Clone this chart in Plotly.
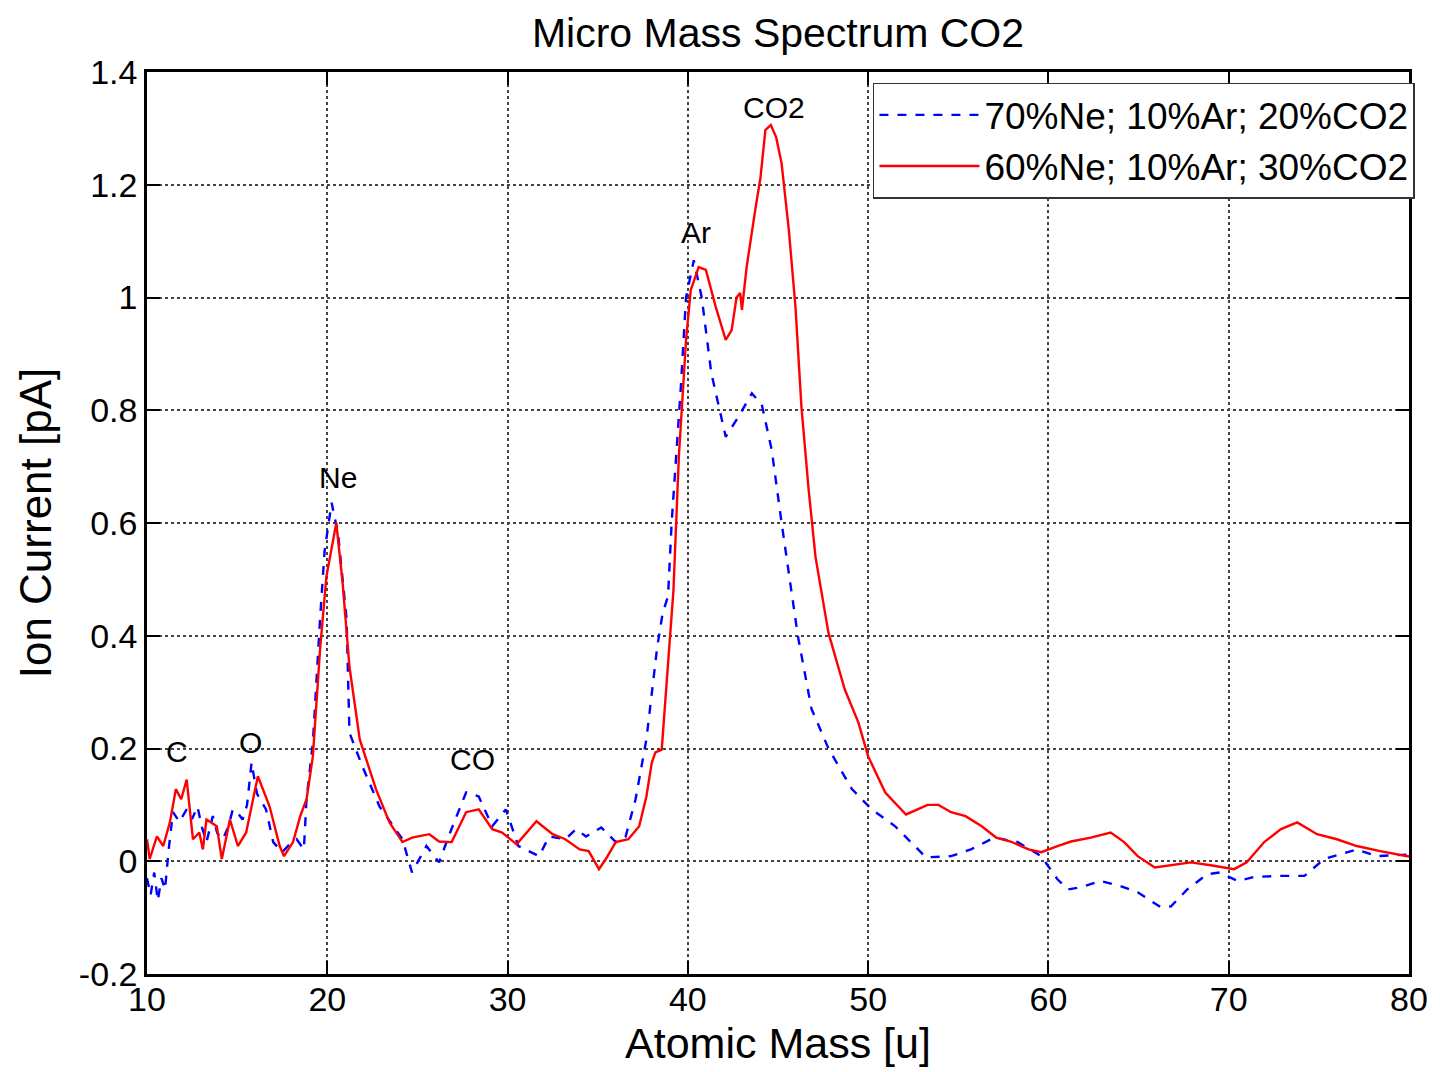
import plotly.graph_objects as go

# Blue dashed series: 70%Ne; 10%Ar; 20%CO2
blue_x = [10.0, 10.2, 10.4, 10.6, 10.8, 11.0, 11.2, 11.44, 11.8, 12.2, 12.5, 12.8, 13.05, 13.3, 13.65, 13.9, 14.2, 14.5, 14.76, 15.05, 15.3, 15.55, 15.8, 16.1, 16.6, 17.0, 17.5, 17.9, 18.3, 18.7, 18.85,
          19.2, 19.6, 19.85, 20.24, 20.6, 21.07, 21.23, 21.95, 22.9, 24.17, 24.7, 25.5, 26.2, 26.8, 27.7, 28.4, 29.15, 29.9, 30.6, 31.75, 32.3, 33.2, 33.8, 34.35, 35.2, 36.0, 36.55, 37.1, 37.7,
          38.3, 38.6, 38.9, 39.1, 39.6, 39.9, 40.33, 40.77, 41.3, 42.1, 42.8, 43.55, 44.1, 44.65, 45.2, 45.75, 46.1, 46.86, 47.8, 49.1, 50.2, 51.5, 53.2, 54.6, 55.7, 57.0, 58.3, 59.6,
          60.5, 61.1, 61.8, 62.9, 64.0, 64.95, 66.2, 66.8, 67.7, 68.8, 69.5, 70.5, 71.4, 72.7, 74.2, 75.3, 77.1, 78.2, 79.9, 80.0]
blue_y = [-0.03, -0.06, -0.02, -0.07, -0.03, -0.05, 0.02, 0.087, 0.07, 0.092, 0.075, 0.097, 0.06, 0.034, 0.08, 0.05, 0.039, 0.06, 0.092, 0.085, 0.074, 0.1, 0.175, 0.12, 0.092, 0.034, 0.016, 0.03, 0.039, 0.021, 0.11,
          0.21, 0.43, 0.55, 0.636, 0.58, 0.43, 0.228, 0.168, 0.097, 0.039, -0.02, 0.027, -0.002, 0.05, 0.122, 0.115, 0.062, 0.092, 0.027, 0.009, 0.044, 0.039, 0.057, 0.044, 0.06, 0.034, 0.044, 0.11, 0.216,
          0.38, 0.44, 0.47, 0.6, 0.836, 1.0, 1.066, 1.0, 0.866, 0.753, 0.788, 0.83, 0.81, 0.73, 0.6, 0.48, 0.4, 0.27, 0.2, 0.128, 0.092, 0.062, 0.007, 0.009, 0.021, 0.042, 0.034, 0.009,
          -0.032, -0.05, -0.046, -0.035, -0.044, -0.055, -0.081, -0.08, -0.05, -0.023, -0.02, -0.035, -0.028, -0.026, -0.026, 0.004, 0.021, 0.009, 0.012, 0.012]

# Red solid series: 60%Ne; 10%Ar; 30%CO2
red_x = [10.0, 10.15, 10.55, 10.9, 11.27, 11.6, 11.9, 12.2, 12.55, 12.9, 13.1, 13.3, 13.87, 14.15, 14.6, 15.04, 15.5, 16.15, 16.8, 17.36, 17.6, 18.1, 18.5, 18.85,
         19.2, 19.6, 19.95, 20.5, 20.85, 21.23, 21.8, 22.7, 23.45, 24.17, 24.7, 25.66, 26.2, 26.9, 27.7, 28.4, 29.15, 29.7, 30.5, 31.6, 32.5, 33.2, 34.0, 34.5, 35.07, 35.45, 36.0, 36.7, 37.3, 37.7, 38.0, 38.2, 38.55,
         39.2, 39.5, 39.9, 40.16, 40.6, 41.0, 41.55, 42.1, 42.43, 42.7, 42.9, 43.0, 43.26, 43.76, 44.03, 44.3, 44.6, 44.9, 45.2, 45.6, 45.97, 46.3, 46.7, 47.08, 47.8, 48.7, 49.46, 50.0, 50.95, 52.1,
         53.3, 53.9, 54.6, 55.4, 56.3, 57.1, 57.9, 58.9, 59.6, 60.5, 61.25, 62.35, 63.45, 64.2, 64.95, 65.9, 66.8, 67.9, 69.0, 70.3, 71.0, 71.97, 72.9, 73.8, 74.9, 76.0, 77.1, 78.4, 79.9, 80.0]
red_y = [0.039, 0.004, 0.044, 0.027, 0.069, 0.128, 0.11, 0.145, 0.039, 0.051, 0.021, 0.074, 0.062, 0.004, 0.074, 0.027, 0.051, 0.151, 0.097, 0.027, 0.009, 0.034, 0.08, 0.11,
         0.186, 0.376, 0.505, 0.6, 0.494, 0.345, 0.216, 0.128, 0.069, 0.034, 0.042, 0.048, 0.035, 0.034, 0.087, 0.092, 0.057, 0.051, 0.03, 0.071, 0.048, 0.039, 0.021, 0.018, -0.014, 0.004, 0.034, 0.039, 0.062, 0.115, 0.175, 0.193, 0.198,
         0.48, 0.717, 0.925, 1.013, 1.054, 1.049, 0.983, 0.925, 0.942, 1.0, 1.008, 0.978, 1.054, 1.16, 1.213, 1.297, 1.306, 1.284, 1.238, 1.12, 0.983, 0.806, 0.659, 0.54, 0.405, 0.305, 0.246, 0.186, 0.122, 0.083,
         0.1, 0.1, 0.087, 0.08, 0.062, 0.042, 0.035, 0.021, 0.016, 0.027, 0.035, 0.042, 0.051, 0.034, 0.009, -0.011, -0.007, -0.002, -0.007, -0.014, -0.002, 0.034, 0.057, 0.069, 0.048, 0.039, 0.027, 0.018, 0.009, 0.009]

series_names = ["70%Ne; 10%Ar; 20%CO2", "60%Ne; 10%Ar; 30%CO2"]

peak_labels = ["C", "O", "Ne", "CO", "Ar", "CO2"]
peak_x = [11.66, 15.76, 20.57, 28.04, 40.44, 44.8]
peak_y = [0.195, 0.211, 0.68, 0.18, 1.116, 1.337]

x_ticks = [10, 20, 30, 40, 50, 60, 70, 80]
y_ticks = [-0.2, 0, 0.2, 0.4, 0.6, 0.8, 1.0, 1.2, 1.4]
y_tick_text = ["-0.2", "0", "0.2", "0.4", "0.6", "0.8", "1", "1.2", "1.4"]

FONT = "Liberation Sans, Arial, sans-serif"

fig = go.Figure()
fig.add_trace(go.Scatter(x=blue_x, y=blue_y, mode="lines", name=series_names[0],
                         line=dict(color="#0000ff", width=2.4, dash="dash")))
fig.add_trace(go.Scatter(x=red_x, y=red_y, mode="lines", name=series_names[1],
                         line=dict(color="#ff0000", width=2.4)))

for lab, xx, yy in zip(peak_labels, peak_x, peak_y):
    fig.add_annotation(x=xx, y=yy, text=lab, showarrow=False,
                       font=dict(family=FONT, size=30, color="black"))

axis_common = dict(showline=True, linecolor="black", linewidth=2.5, mirror="ticks",
                   ticks="inside", ticklen=13, tickwidth=2, tickcolor="black",
                   showgrid=True, gridcolor="#444444", griddash="dot", gridwidth=1.5,
                   zeroline=False, tickfont=dict(family=FONT, size=34, color="black"))

fig.update_layout(
    width=1432, height=1064,
    paper_bgcolor="white", plot_bgcolor="white",
    margin=dict(l=139, r=28, t=64, b=97),
    title=dict(text="Micro Mass Spectrum CO2", x=0.5, xref="paper", xanchor="center",
               y=0.977, yref="container", yanchor="middle",
               font=dict(family=FONT, size=41, color="black")),
    xaxis=dict(range=[10, 80], tickvals=x_ticks, ticklabelstandoff=-7,
               title=dict(text="Atomic Mass [u]", font=dict(family=FONT, size=43, color="black"), standoff=12),
               **axis_common),
    yaxis=dict(range=[-0.2, 1.4], tickvals=y_ticks, ticktext=y_tick_text,
               title=dict(text="Ion Current [pA]", font=dict(family=FONT, size=44, color="black"), standoff=14),
               **axis_common),
    legend=dict(x=1.0047, xanchor="right", y=0.988, yanchor="top",
                bgcolor="white", bordercolor="#333333", borderwidth=1.5,
                font=dict(family=FONT, size=37, color="black"),
                itemwidth=100, tracegroupgap=0),
    showlegend=True,
)

fig.write_html("out.html")
